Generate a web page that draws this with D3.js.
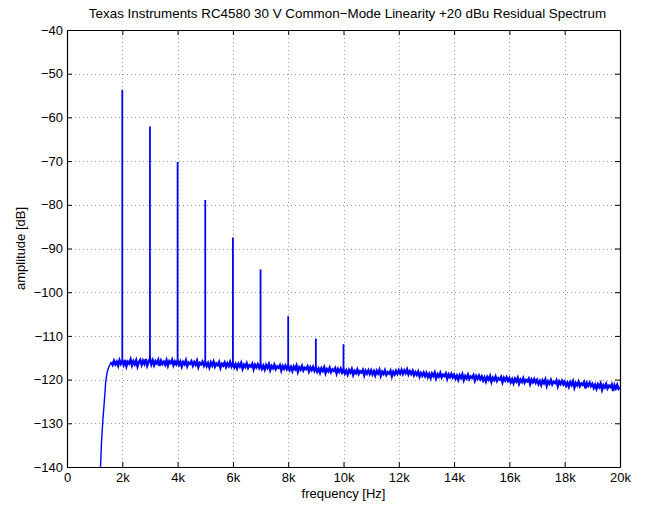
<!DOCTYPE html>
<html><head><meta charset="utf-8">
<script src="https://cdn.jsdelivr.net/npm/d3@7"></script>
<style>body{margin:0;background:#fff}svg{display:block}text{font-family:"Liberation Sans",Arial,sans-serif}</style>
</head><body><svg id="c" width="652" height="509"></svg>
<script>
const title = "Texas Instruments RC4580 30 V Common\u2212Mode Linearity +20 dBu Residual Spectrum";
const xLabel = "frequency [Hz]";
const yLabel = "amplitude [dB]";
const xTicks = [0,2000,4000,6000,8000,10000,12000,14000,16000,18000,20000];
const xTickLabels = ["0","2k","4k","6k","8k","10k","12k","14k","16k","18k","20k"];
const yTicks = [-40,-50,-60,-70,-80,-90,-100,-110,-120,-130,-140];

// harmonic spikes
const harmonicFreqs = [2000,3000,4000,5000,6000,7000,8000,9000,10000];
const harmonicLevels = [-53.7,-62.1,-70.2,-78.9,-87.5,-94.8,-105.5,-110.6,-111.9];

// noise floor, 50 Hz steps starting at 1200 Hz
const noiseStart = 1200, noiseStep = 50;
const noise1k = [-142,-134,-129,-125,-120.5,-118.4,-117.3,-116.6,-116.0,-116.6,-115.7,-116.5,-115.9,-116.8,-115.6,-116.4];
const noise2k = [-115.8,-116.6,-115.5,-116.9,-115.9,-116.3,-115.4,-116.7,-115.8,-116.5,-115.6,-117.0,-116.0,-115.5,-116.6,-115.7,-116.4,-115.3,-116.8,-115.9];
const noise3k = [-115.2,-116.5,-115.6,-116.7,-115.8,-116.3,-115.5,-116.9,-115.7,-116.4,-115.9,-116.6,-115.6,-116.8,-115.8,-116.2,-115.5,-116.7,-115.9,-116.5];
const noise4k = [-115.7,-116.6,-115.9,-117.0,-116.0,-116.5,-115.6,-116.9,-116.1,-116.4,-115.8,-116.8,-116.0,-116.6,-115.7,-117.1,-116.2,-116.5,-115.9,-116.8];
const noise5k = [-116.0,-116.9,-116.2,-117.2,-116.1,-116.8,-115.9,-117.0,-116.3,-116.7,-116.0,-117.3,-116.4,-116.8,-116.1,-117.1,-116.3,-116.9,-116.0,-117.0];
const noise6k = [-116.3,-117.2,-116.5,-117.4,-116.4,-117.0,-116.2,-117.5,-116.6,-117.1,-116.3,-117.3,-116.7,-117.0,-116.4,-117.6,-116.6,-117.2,-116.5,-117.3];
const noise7k = [-116.6,-117.5,-116.8,-117.7,-116.7,-117.3,-116.5,-117.8,-116.9,-117.4,-116.6,-117.6,-117.0,-117.3,-116.7,-117.9,-116.9,-117.5,-116.8,-117.6];
const noise8k = [-116.9,-117.8,-117.1,-118.0,-117.0,-117.6,-116.8,-118.2,-117.2,-117.7,-116.9,-117.9,-117.3,-117.6,-117.0,-118.1,-117.2,-117.8,-117.1,-118.0];
const noise9k = [-117.3,-118.2,-117.5,-118.4,-117.4,-118.0,-117.2,-118.5,-117.6,-118.1,-117.3,-118.3,-117.7,-118.0,-117.4,-118.6,-117.6,-118.2,-117.5,-118.4];
const noise10k = [-117.7,-118.6,-117.9,-118.8,-117.8,-118.4,-117.6,-118.9,-118.0,-118.5,-117.7,-118.7,-118.1,-118.4,-117.8,-119.0,-118.0,-118.6,-117.9,-118.7];
const noise11k = [-117.9,-118.8,-118.1,-119.0,-118.0,-118.6,-117.8,-119.1,-118.2,-118.7,-117.9,-118.9,-118.3,-118.6,-118.0,-119.2,-118.2,-118.8,-118.0,-118.7];
const noise12k = [-117.9,-118.6,-117.8,-118.7,-117.9,-118.5,-117.7,-118.8,-118.1,-118.7,-118.0,-119.0,-118.3,-118.9,-118.2,-119.3,-118.5,-119.1,-118.4,-119.2];
const noise13k = [-118.5,-119.4,-118.7,-119.6,-118.6,-119.2,-118.4,-119.7,-118.8,-119.3,-118.5,-119.5,-118.9,-119.2,-118.6,-119.8,-118.8,-119.4,-118.7,-119.5];
const noise14k = [-118.9,-119.8,-119.1,-120.0,-119.0,-119.6,-118.8,-120.1,-119.2,-119.7,-118.9,-119.9,-119.3,-119.6,-119.0,-120.2,-119.2,-119.8,-119.1,-119.9];
const noise15k = [-119.3,-120.2,-119.5,-120.4,-119.4,-120.0,-119.2,-120.5,-119.6,-120.1,-119.3,-120.3,-119.7,-120.0,-119.4,-120.6,-119.6,-120.2,-119.5,-120.3];
const noise16k = [-119.7,-120.6,-119.9,-120.8,-119.8,-120.4,-119.6,-120.9,-120.0,-120.5,-119.7,-120.7,-120.1,-120.4,-119.8,-121.0,-120.0,-120.6,-119.9,-120.7];
const noise17k = [-120.1,-121.0,-120.3,-121.2,-120.2,-120.8,-120.0,-121.4,-120.4,-120.9,-120.1,-121.1,-120.5,-120.8,-120.2,-121.5,-120.4,-121.0,-120.3,-121.1];
const noise18k = [-120.5,-121.4,-120.7,-121.6,-120.6,-121.2,-120.4,-121.8,-120.8,-121.3,-120.5,-121.5,-120.9,-121.2,-120.6,-122.0,-120.8,-121.4,-120.7,-121.5];
const noise19k = [-121.0,-121.9,-121.2,-122.1,-121.1,-121.7,-120.9,-122.3,-121.3,-121.8,-121.0,-122.0,-121.4,-121.7,-121.1,-122.6,-121.3,-122.0,-121.2,-122.1];
const noise20k = [-121.8];

const noiseVals = [].concat(noise1k,noise2k,noise3k,noise4k,noise5k,noise6k,noise7k,noise8k,noise9k,noise10k,
  noise11k,noise12k,noise13k,noise14k,noise15k,noise16k,noise17k,noise18k,noise19k,noise20k);
const noise = noiseVals.map((v,i)=>({f: noiseStart + i*noiseStep, v}));

const m = {l:67, r:620, t:30, b:467};
const FS = "13px";
const svg = d3.select("#c");
const x = d3.scaleLinear().domain([0,20000]).range([m.l,m.r]);
const y = d3.scaleLinear().domain([-140,-40]).range([m.b,m.t]);

const clip = svg.append("defs").append("clipPath").attr("id","pc");
clip.append("rect").attr("x",m.l).attr("y",m.t).attr("width",m.r-m.l).attr("height",m.b-m.t);

// grid
const grid = svg.append("g").attr("stroke","#999").attr("stroke-width",1).attr("stroke-dasharray","1,3");
grid.selectAll(".gx").data(xTicks.slice(1,-1)).join("line")
  .attr("x1",d=>Math.round(x(d))+0.5).attr("x2",d=>Math.round(x(d))+0.5).attr("y1",m.t).attr("y2",m.b);
grid.selectAll(".gy").data(yTicks.slice(1,-1)).join("line")
  .attr("y1",d=>Math.round(y(d))+0.5).attr("y2",d=>Math.round(y(d))+0.5).attr("x1",m.l).attr("x2",m.r);

// data
const g = svg.append("g").attr("clip-path","url(#pc)");
const line = d3.line().x(d=>x(d.f)).y(d=>y(d.v));
const riseEnd = 8;
g.append("path").datum(noise.slice(0, riseEnd+1)).attr("d",line).attr("fill","none").attr("stroke","#0000ff")
  .attr("stroke-width",1.4);
g.append("path").datum(noise.slice(riseEnd)).attr("d",line).attr("fill","none").attr("stroke","#0000ff")
  .attr("stroke-width",2.4).attr("stroke-linejoin","miter");
const noiseAt = f => { const i = Math.round((f-noiseStart)/noiseStep); return noiseVals[i]; };
g.selectAll(".h").data(harmonicFreqs).join("line")
  .attr("x1",d=>x(d)).attr("x2",d=>x(d))
  .attr("y1",d=>y(noiseAt(d))).attr("y2",(d,i)=>y(harmonicLevels[i]))
  .attr("stroke","#0000ff").attr("stroke-width",1.8);

// axes
const fmtX = d=>xTickLabels[xTicks.indexOf(d)];
const fmtY = d=>d<0?"\u2212"+Math.abs(d):String(d);
const ax = svg.append("g").attr("transform",`translate(0,${m.b})`)
  .call(d3.axisBottom(x).tickValues(xTicks).tickFormat(fmtX).tickSizeInner(-5).tickSizeOuter(0).tickPadding(6));
const axT = svg.append("g").attr("transform",`translate(0,${m.t})`)
  .call(d3.axisTop(x).tickValues(xTicks).tickFormat("").tickSizeInner(-5).tickSizeOuter(0));
const ay = svg.append("g").attr("transform",`translate(${m.l},0)`)
  .call(d3.axisLeft(y).tickValues(yTicks).tickFormat(fmtY).tickSizeInner(-5).tickSizeOuter(0).tickPadding(4));
const ayR = svg.append("g").attr("transform",`translate(${m.r},0)`)
  .call(d3.axisRight(y).tickValues(yTicks).tickFormat("").tickSizeInner(-5).tickSizeOuter(0));
[ax,axT,ay,ayR].forEach(a=>{
  a.select(".domain").attr("stroke","#000").attr("stroke-width",1.2);
  a.selectAll(".tick line").attr("stroke","#000");
  a.selectAll("text").attr("fill","#000").style("font-size",FS).style("font-family","'Liberation Sans',Arial,sans-serif");
});

svg.append("text").attr("x",(m.l+m.r)/2+4).attr("y",18).attr("text-anchor","middle")
  .style("font-size","13.4px").text(title);
svg.append("text").attr("x",(m.l+m.r)/2).attr("y",498).attr("text-anchor","middle")
  .style("font-size",FS).text(xLabel);
svg.append("text").attr("transform",`translate(25,${(m.t+m.b)/2}) rotate(-90)`).attr("text-anchor","middle")
  .style("font-size",FS).text(yLabel);
</script></body></html>
